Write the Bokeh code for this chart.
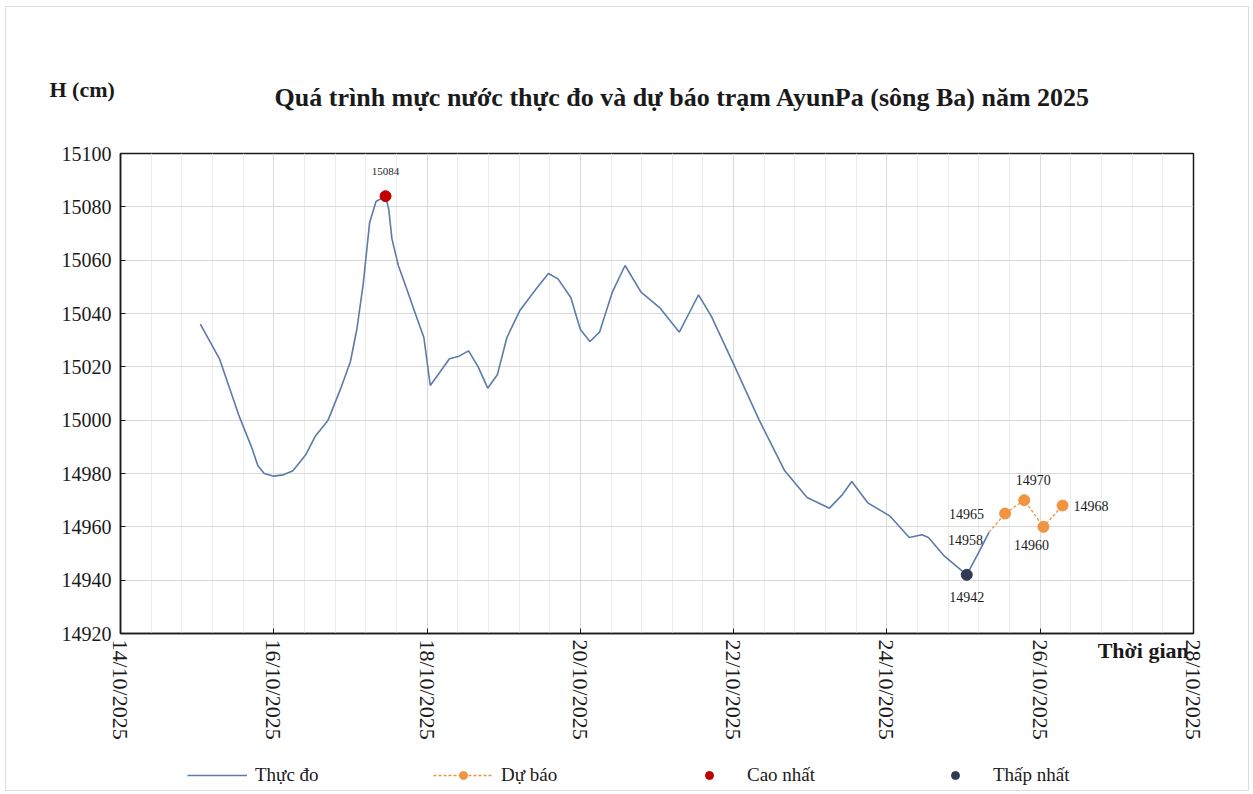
import math
from datetime import datetime, timedelta
from bokeh.plotting import figure
from bokeh.layouts import column
from bokeh.models import (Range1d, FixedTicker, DatetimeTickFormatter, Label,
                          Legend, LegendItem, InlineStyleSheet)
from bokeh.core.properties import value
from bokeh.embed import file_html
from bokeh.resources import INLINE

# ---------------- data ----------------
obs_time = [
    "2025-10-15 01:00", "2025-10-15 07:00", "2025-10-15 13:00", "2025-10-15 17:00",
    "2025-10-15 19:00", "2025-10-15 21:00", "2025-10-16 00:00", "2025-10-16 03:00",
    "2025-10-16 06:00", "2025-10-16 10:00", "2025-10-16 13:00",
    "2025-10-16 17:00", "2025-10-16 21:00", "2025-10-17 00:00", "2025-10-17 02:00",
    "2025-10-17 04:00", "2025-10-17 06:00", "2025-10-17 08:00", "2025-10-17 11:00",
    "2025-10-17 12:00", "2025-10-17 13:00", "2025-10-17 15:00", "2025-10-17 18:00",
    "2025-10-17 20:00", "2025-10-17 23:00", "2025-10-18 01:00", "2025-10-18 04:00",
    "2025-10-18 07:00", "2025-10-18 10:00", "2025-10-18 13:00", "2025-10-18 16:00",
    "2025-10-18 19:00", "2025-10-18 22:00", "2025-10-19 01:00", "2025-10-19 05:00",
    "2025-10-19 10:00", "2025-10-19 14:00", "2025-10-19 17:00", "2025-10-19 21:00",
    "2025-10-20 00:00", "2025-10-20 03:00", "2025-10-20 06:00", "2025-10-20 10:00",
    "2025-10-20 14:00", "2025-10-20 19:00", "2025-10-21 01:00", "2025-10-21 07:00",
    "2025-10-21 10:00", "2025-10-21 13:00", "2025-10-21 17:00", "2025-10-22 00:00",
    "2025-10-22 08:00", "2025-10-22 16:00", "2025-10-22 23:00", "2025-10-23 06:00",
    "2025-10-23 10:00", "2025-10-23 13:00", "2025-10-23 18:00", "2025-10-24 01:00",
    "2025-10-24 07:00", "2025-10-24 11:00", "2025-10-24 13:00", "2025-10-24 18:00",
    "2025-10-25 01:00", "2025-10-25 05:00", "2025-10-25 08:00",
]
obs_level = [
    15036, 15023, 15002, 14990,
    14983, 14980, 14979, 14979.5,
    14981, 14987, 14994,
    15000, 15012, 15022, 15034,
    15051, 15074, 15082, 15084,
    15079, 15068, 15058, 15048,
    15041, 15031, 15013, 15018,
    15023, 15024, 15026, 15020,
    15012, 15017, 15031, 15041,
    15049, 15055, 15053, 15046,
    15034, 15029.5, 15033, 15048,
    15058, 15048, 15042, 15033,
    15040, 15047, 15039, 15021,
    15000, 14981, 14971, 14967,
    14972, 14977, 14969, 14964,
    14956, 14957, 14956, 14949,
    14942, 14951, 14958,
]
fc_time = ["2025-10-25 08:00", "2025-10-25 13:00", "2025-10-25 19:00",
           "2025-10-26 01:00", "2025-10-26 07:00"]
fc_level = [14958, 14965, 14970, 14960, 14968]
max_time = ["2025-10-17 11:00"]
max_level = [15084]
min_time = ["2025-10-25 01:00"]
min_level = [14942]
x_tick_days = ["2025-10-14", "2025-10-16", "2025-10-18", "2025-10-20",
               "2025-10-22", "2025-10-24", "2025-10-26", "2025-10-28"]
y_ticks = [14920, 14940, 14960, 14980, 15000, 15020, 15040, 15060, 15080, 15100]
legend_labels = ["Thực đo", "Dự báo", "Cao nhất", "Thấp nhất"]
title_text = "Quá trình mực nước thực đo và dự báo trạm AyunPa (sông Ba) năm 2025"
y_title = "H (cm)"
x_title = "Thời gian"

# ---------------- helpers ----------------
def to_dt(s):
    fmt = "%Y-%m-%d %H:%M" if " " in s else "%Y-%m-%d"
    return datetime.strptime(s, fmt)

def ms(d):
    return (d - datetime(1970, 1, 1)).total_seconds() * 1000.0

obs_x = [to_dt(s) for s in obs_time]
fc_x = [to_dt(s) for s in fc_time]
max_x = [to_dt(s) for s in max_time]
min_x = [to_dt(s) for s in min_time]
major = [to_dt(s) for s in x_tick_days]
minor = []
for i in range(len(major) - 1):
    for k in range(1, 5):
        minor.append(ms(major[i] + timedelta(days=0.4 * k)))

SERIF = "Liberation Serif"
INK = "#1a1a1a"
OBS_COLOR = "#5b7bab"
FC_COLOR = "#ef9440"
MAX_COLOR = "#c00000"
MIN_COLOR = "#333a55"

W = 1252
H1, H2 = 752, 40
FL, FR, FT, FB = 120, 1193, 153, 633
p = figure(width=W, height=H1, x_axis_type="datetime", output_backend="svg",
           toolbar_location=None, tools="",
           x_range=Range1d(major[0], major[-1]),
           y_range=Range1d(y_ticks[0], y_ticks[-1]),
           min_border_left=FL, min_border_right=W - FR,
           min_border_top=FT, min_border_bottom=H1 - FB)
p.title.visible = False
p.outline_line_color = INK
p.outline_line_width = 1.5
p.background_fill_color = "white"
p.border_fill_color = "white"

# grids
p.xgrid.ticker = FixedTicker(ticks=[ms(d) for d in major], minor_ticks=minor)
p.xgrid.grid_line_color = "#d9d9d9"
p.xgrid.minor_grid_line_color = "#ededed"
p.ygrid.ticker = FixedTicker(ticks=y_ticks)
p.ygrid.grid_line_color = "#d9d9d9"

# axes
xa = p.xaxis[0]
xa.ticker = FixedTicker(ticks=[ms(d) for d in major])
xa.formatter = DatetimeTickFormatter(days="%d/%m/%Y", months="%d/%m/%Y",
                                     hours="%d/%m/%Y", years="%d/%m/%Y")
xa.major_label_orientation = -math.pi / 2
ya = p.yaxis[0]
ya.ticker = FixedTicker(ticks=y_ticks)
for ax in (xa, ya):
    ax.axis_line_color = INK
    ax.axis_line_width = 1.5
    ax.major_tick_in = 5
    ax.major_tick_out = 0
    ax.major_tick_line_color = INK
    ax.minor_tick_line_color = None
    ax.major_label_text_font = SERIF
    ax.major_label_text_color = INK
xa.major_label_text_font_size = "22px"
ya.major_label_text_font_size = "20px"
xa.major_label_standoff = 6
ya.major_label_standoff = 9

# series
p.line(obs_x, obs_level, line_color=OBS_COLOR, line_width=1.6)
p.line(fc_x, fc_level, line_color=FC_COLOR, line_width=1.3, line_dash="3 2")
p.scatter(fc_x[1:], fc_level[1:], size=11, fill_color=FC_COLOR, line_color=FC_COLOR)
p.scatter(max_x, max_level, size=11, fill_color=MAX_COLOR, line_color=MAX_COLOR)
p.scatter(min_x, min_level, size=11, fill_color=MIN_COLOR, line_color=MIN_COLOR)

# data labels
lab_font = value(SERIF)
def dlabel(xs, ys, size, align, dx, dy):
    p.text(xs, ys, text=[str(v) for v in ys], text_font=lab_font,
           text_font_size=size, text_align=align, text_baseline="middle",
           x_offset=dx, y_offset=dy, text_color=INK)

dlabel(max_x, max_level, "11px", "center", 0, -25)
dlabel(min_x, min_level, "14px", "center", 0, 22)
dlabel(fc_x[0:1], fc_level[0:1], "14px", "right", -6, 8)
dlabel(fc_x[1:2], fc_level[1:2], "14px", "right", -21, 0)
dlabel(fc_x[2:3], fc_level[2:3], "14px", "center", 9, -20)
dlabel(fc_x[3:4], fc_level[3:4], "14px", "center", -12, 18)
dlabel(fc_x[4:5], fc_level[4:5], "14px", "left", 11, 0)

# titles: data-positioned labels placed in a side panel (not clipped to frame)
p.add_layout(Label(x=ms(datetime(2025, 10, 21, 8)), y=15121, text=title_text,
                   text_font=SERIF, text_font_size="26px", text_font_style="bold",
                   text_align="center", text_baseline="middle", text_color=INK), "above")
p.add_layout(Label(x=ms(datetime(2025, 10, 13, 12)), y=15124, text=y_title,
                   text_font=SERIF, text_font_size="22px", text_font_style="bold",
                   text_align="center", text_baseline="middle", text_color=INK), "above")
p.add_layout(Label(x=ms(datetime(2025, 10, 26, 18)), y=14913.5, text=x_title,
                   text_font=SERIF, text_font_size="22px", text_font_style="bold",
                   text_align="left", text_baseline="middle", text_color=INK), "above")

# ---------------- legend strip (separate small figure) ----------------
# the same series are drawn here but fall outside this strip's y range,
# so only their legend samples are visible
q = figure(width=W, height=H2, output_backend="svg", toolbar_location=None, tools="",
           x_axis_type="datetime",
           x_range=Range1d(major[0], major[-1]), y_range=Range1d(0, 1),
           x_axis_location=None, y_axis_location=None,
           min_border_left=FL, min_border_right=W - FR,
           min_border_top=0, min_border_bottom=0)
q.title.visible = False
q.grid.visible = False
q.outline_line_color = None
q.background_fill_color = "white"
q.border_fill_color = "white"
g_obs = q.line(obs_x, obs_level, line_color=OBS_COLOR, line_width=1.6)
g_fc_l = q.line(fc_x, fc_level, line_color=FC_COLOR, line_width=1.3, line_dash="3 2")
g_fc_p = q.scatter(fc_x[1:], fc_level[1:], size=11, fill_color=FC_COLOR, line_color=FC_COLOR)
g_max = q.scatter(max_x, max_level, size=11, fill_color=MAX_COLOR, line_color=MAX_COLOR)
g_min = q.scatter(min_x, min_level, size=11, fill_color=MIN_COLOR, line_color=MIN_COLOR)

legend = Legend(items=[
    LegendItem(label=legend_labels[0], renderers=[g_obs]),
    LegendItem(label=legend_labels[1], renderers=[g_fc_l, g_fc_p]),
    LegendItem(label=legend_labels[2], renderers=[g_max]),
    LegendItem(label=legend_labels[3], renderers=[g_min]),
], orientation="horizontal", location=(187 - FL, 6))
legend.border_line_color = None
legend.background_fill_alpha = 0
legend.padding = 0
legend.margin = 0
legend.glyph_width = 60
legend.glyph_height = 20
legend.label_height = 20
legend.label_standoff = 8
legend.label_width = 110
legend.spacing = 68
legend.label_text_font = SERIF
legend.label_text_font_size = "19px"
legend.label_text_color = INK
q.add_layout(legend, "center")

frame_css = InlineStyleSheet(css="""
:host { position: relative; }
:host::after { content: ""; position: absolute; left: 5px; top: 6px; right: 3px; bottom: 1px;
  border: 1px solid #dcdcdc; pointer-events: none; z-index: 100; }
""")
page = column(p, q, spacing=0, stylesheets=[frame_css])

open("out.html", "w").write(file_html(page, INLINE))
